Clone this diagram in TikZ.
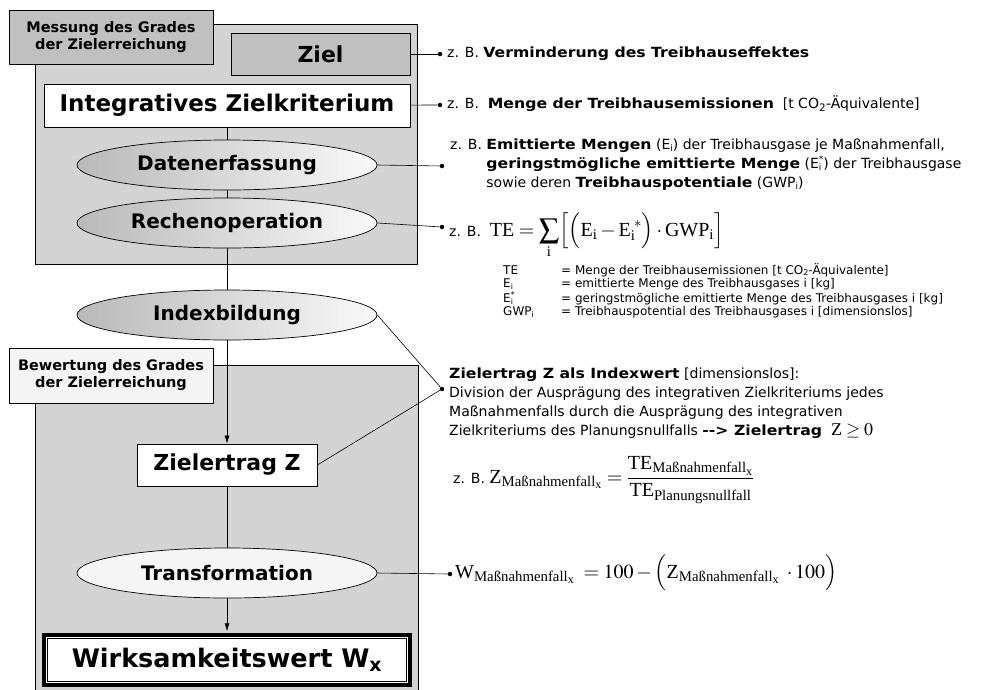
\documentclass[tikz,border=0pt]{standalone}
\usepackage{amsmath}
\usepackage{mathptmx}
\usepackage[no-math]{fontspec}
\setmainfont{DejaVu Sans}
\newfontfamily\notefont{DejaVu Sans}[BoldFeatures={FakeStretch=1.12}]
\newfontfamily\tnr{Liberation Serif}
\usetikzlibrary{arrows.meta, positioning, shapes.geometric}

\definecolor{panelgray}{HTML}{D3D3D3}
\definecolor{tabgray}{HTML}{C0C0C0}
\definecolor{tablight}{HTML}{F4F4F4}

\newcommand{\rmtxt}[1]{\text{\tnr #1}}
% small index letters: #1 = size, #2 = text
\newcommand{\idx}[2]{\raisebox{-0.12em}{\fontsize{#1}{#1}\selectfont #2}}
\newcommand{\Estar}[1]{E\rlap{\idx{#1}{i}}\raisebox{0.42em}{\fontsize{#1}{#1}\selectfont *}}

\begin{document}
\begin{tikzpicture}[
    x=1pt, y=-1pt,
    panel/.style = {draw, fill=panelgray, line width=0.8pt},
    tab/.style = {draw, line width=0.8pt, minimum width=204pt, minimum height=54pt, inner sep=0pt, align=center, font=\fontsize{14.5}{17}\selectfont\bfseries},
    block/.style = {draw, line width=0.8pt, minimum height=42pt, inner sep=0pt, font=\fontsize{22}{26}\selectfont\bfseries},
    oval/.style = {ellipse, draw, line width=0.7pt, minimum width=300pt, minimum height=50pt, inner sep=0pt, font=\fontsize{20}{24}\selectfont\bfseries},
    darkoval/.style = {oval, left color=gray!55, right color=gray!5},
    link/.style = {line width=0.6pt},
    arrow/.style = {link, -{Latex[length=8pt, width=5pt]}},
    dot/.style = {circle, fill, inner sep=0pt, minimum size=4.5pt},
    note/.style = {inner sep=0pt, align=left, font=\notefont\fontsize{14}{19}\selectfont},
    legend/.style = {inner sep=0pt, anchor=north west, font=\fontsize{12}{13.4}\selectfont}
  ]

  \useasboundingbox (0,0) rectangle (985,689);

  % Panels
  \draw[panel] (35,24) rectangle (417,264);
  \draw[panel] (35,365) rectangle (418,700);

  % Nodes
  \node[tab, fill=tabgray] (messung) at (111,37) {Messung des Grades\\der Zielerreichung};
  \node[block, fill=tabgray, minimum width=179pt] (ziel) at (320.5,54) {Ziel};
  \node[block, fill=white, minimum width=366pt, minimum height=43pt, font=\fontsize{23}{27}\selectfont\bfseries] (kriterium) at (227,105.5) {Integratives Zielkriterium};
  \node[darkoval] (daten) at (227,165) {Datenerfassung};
  \node[darkoval] (rechen) at (227,223) {Rechenoperation};
  \node[darkoval] (index) at (227,315) {Indexbildung};

  \node[tab, fill=tablight, minimum height=55pt] (bewertung) at (111,375.5) {Bewertung des Grades\\der Zielerreichung};
  \node[block, fill=white, minimum width=180pt] (ertrag) at (227,465) {Zielertrag Z};
  \node[oval, fill=gray!8] (trafo) at (227,573) {Transformation};
  \node[block, fill=white, line width=3.5pt, minimum width=366pt, minimum height=50pt, font=\fontsize{25.5}{30}\selectfont\bfseries] (wert) at (227,660) {Wirksamkeitswert W\textsubscript{x}};
  \draw[line width=0.9pt] ([shift={(5,5)}]wert.north west) rectangle ([shift={(-5,-5)}]wert.south east);

  % Flow
  \draw[link] (kriterium) -- (daten);
  \draw[link] (daten) -- (rechen);
  \draw[link] (rechen) -- (index);
  \draw[arrow] (index) -- (ertrag);
  \draw[link] (ertrag) -- (trafo);
  \draw[arrow, shorten >=2pt] (trafo) -- (wert);

  % Explanations
  \node[dot] (p1) at (440,54) {};
  \node[dot] (p2) at (440,105) {};
  \node[dot] (p3) at (442,166) {};
  \node[dot] (p4) at (442,227) {};
  \node[dot] (p5) at (442,389) {};
  \node[dot] (p6) at (450,574) {};

  \draw[link] (ziel) -- (p1);
  \draw[link] (kriterium) -- (p2);
  \draw[link] (daten.east) -- (p3);
  \draw[link] (rechen.east) -- (p4);
  \draw[link] (index.east) -- (p5) -- (ertrag.east);
  \draw[link] (trafo.east) -- (p6);

  \node[note, anchor=west] (n1) at (447,54) {z. B. \textbf{Verminderung des Treibhauseffektes}};
  \node[note, anchor=west] (n2) at (447,104) {z. B.\ \ \textbf{Menge der Treibhausemissionen}\ \ [t CO\textsubscript{2}-Äquivalente]};
  \node[note, anchor=north west] (n3) at (450,136) {%
    \begin{tabular}{@{}l@{ }l@{}}
      z. B. & \textbf{Emittierte Mengen} (E\idx{9}{i}) der Treibhausgase je Maßnahmenfall,\\
            & \textbf{geringstmögliche emittierte Menge} (\Estar{9}) der Treibhausgase\\
            & sowie deren \textbf{Treibhauspotentiale} (GWP\idx{9}{i})
    \end{tabular}};
  \node[note, anchor=base west] (n4) at (449,236) {z. B.\ \ \fontsize{20}{24}\selectfont
    $\displaystyle\rmtxt{TE}=\sum_{\rmtxt{i}}\Bigl[\Bigl(\rmtxt{E}_{\rmtxt{i}}-\rmtxt{E}_{\rmtxt{i}}^{\;*}\Bigr)\cdot\rmtxt{GWP}_{\rmtxt{i}}\Bigr]$};
  \node[legend] (n5) at (503,263) {%
    \begin{tabular}{@{}p{58pt}@{}l@{}}
      TE & = Menge der Treibhausemissionen [t CO\idx{8}{2}-Äquivalente]\\
      E\idx{8}{i} & = emittierte Menge des Treibhausgases i [kg]\\
      \Estar{8} & = geringstmögliche emittierte Menge des Treibhausgases i [kg]\\
      GWP\idx{8}{i} & = Treibhauspotential des Treibhausgases i [dimensionslos]
    \end{tabular}};
  \node[note, anchor=north west] (n6) at (449,365) {%
    \begin{tabular}{@{}l@{}}
      \textbf{Zielertrag Z als Indexwert} [dimensionslos]:\\
      Division der Ausprägung des integrativen Zielkriteriums jedes\\
      Maßnahmenfalls durch die Ausprägung des integrativen\\
      Zielkriteriums des Planungsnullfalls \textbf{-{}-> Zielertrag}\ \ {\fontsize{18}{20}\selectfont$\rmtxt{Z}\geq 0$}
    \end{tabular}};
  \node[note, anchor=base west] (n7) at (453,483) {z. B.\ \fontsize{20}{24}\selectfont
    $\rmtxt{Z}_{\rmtxt{Maßnahmenfall}_{\rmtxt{x}}} = \dfrac{\rmtxt{TE}_{\rmtxt{Maßnahmenfall}_{\rmtxt{x}}}}{\rmtxt{TE}_{\rmtxt{Planungsnullfall}}}$};
  \node[note, anchor=base west] (n8) at (455,578) {\fontsize{20}{24}\selectfont
    $\rmtxt{W}_{\rmtxt{Maßnahmenfall}_{\rmtxt{x}}}\;=100-\Bigl(\rmtxt{Z}_{\rmtxt{Maßnahmenfall}_{\rmtxt{x}}}\;\cdot100\Bigr)$};

\end{tikzpicture}
\end{document}
